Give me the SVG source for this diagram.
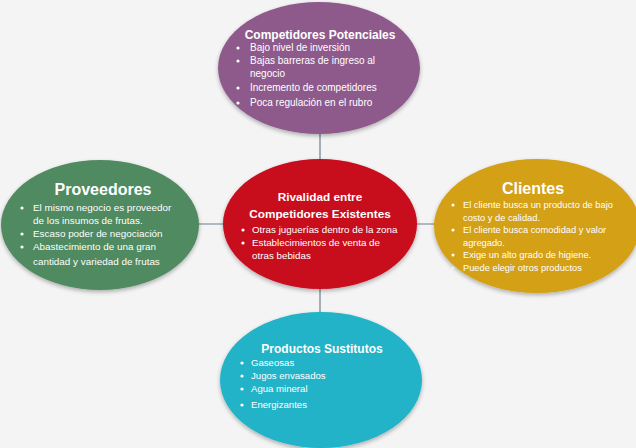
<svg xmlns="http://www.w3.org/2000/svg" width="636" height="448" viewBox="0 0 636 448">
<defs>
<filter id="sh" x="-10%" y="-10%" width="120%" height="125%">
<feGaussianBlur in="SourceAlpha" stdDeviation="2"/>
<feOffset dy="2" result="b"/>
<feComponentTransfer><feFuncA type="linear" slope="0.3"/></feComponentTransfer>
<feMerge><feMergeNode/><feMergeNode in="SourceGraphic"/></feMerge>
</filter>
</defs>
<style>
.t{font-family:"Liberation Sans",Arial,sans-serif;fill:#fff;font-weight:bold;text-anchor:middle}
.b{font-family:"Liberation Sans",Arial,sans-serif;fill:#fff}
.d{fill:#fff}
.c{stroke:#6c7f90;stroke-width:1.2;fill:none}
</style>
<rect width="636" height="448" fill="#f4f4f4"/>
<g id="connectors">
<line class="c" x1="320" y1="120" x2="320" y2="330"/>
<line class="c" x1="180" y1="224" x2="450" y2="224"/>
</g>
<g id="competidores-potenciales">
<ellipse cx="319" cy="68" rx="101" ry="66" fill="#8e5a8c" filter="url(#sh)"/>
<text class="t" x="320" y="39" font-size="12">Competidores Potenciales</text>
<g class="b" font-size="10">
<circle class="d" cx="238" cy="48" r="1.6"/><text x="250" y="51">Bajo nivel de inversión</text>
<circle class="d" cx="238" cy="61" r="1.6"/><text x="250" y="64">Bajas barreras de ingreso al</text>
<text x="250" y="77">negocio</text>
<circle class="d" cx="238" cy="88" r="1.6"/><text x="250" y="91">Incremento de competidores</text>
<circle class="d" cx="238" cy="103" r="1.6"/><text x="250" y="106">Poca regulación en el rubro</text>
</g>
</g>
<g id="proveedores">
<ellipse cx="100" cy="225" rx="99" ry="65" fill="#4f8a61" filter="url(#sh)"/>
<text class="t" x="103" y="195" font-size="16">Proveedores</text>
<g class="b" font-size="9.9">
<circle class="d" cx="22" cy="208" r="1.6"/><text x="33" y="211">El mismo negocio es proveedor</text>
<text x="33" y="224">de los insumos de frutas.</text>
<circle class="d" cx="22" cy="234" r="1.6"/><text x="33" y="237">Escaso poder de negociación</text>
<circle class="d" cx="22" cy="247" r="1.6"/><text x="33" y="250">Abastecimiento de una gran</text>
<text x="33" y="265">cantidad y variedad de frutas</text>
</g>
</g>
<g id="rivalidad">
<ellipse cx="320" cy="224" rx="97" ry="65" fill="#c8081e" filter="url(#sh)"/>
<text class="t" x="320" y="201" font-size="11.8">Rivalidad entre</text>
<text class="t" x="320" y="218" font-size="11.8">Competidores Existentes</text>
<g class="b" font-size="9.8">
<circle class="d" cx="243" cy="230" r="1.6"/><text x="252" y="233">Otras juguerías dentro de la zona</text>
<circle class="d" cx="243" cy="243" r="1.6"/><text x="252" y="246">Establecimientos de venta de</text>
<text x="252" y="259">otras bebidas</text>
</g>
</g>
<g id="clientes">
<ellipse cx="537" cy="226" rx="103" ry="67" fill="#d4a017" filter="url(#sh)"/>
<text class="t" x="533" y="194" font-size="16">Clientes</text>
<g class="b" font-size="9.3">
<circle class="d" cx="453" cy="205" r="1.5"/><text x="463" y="208">El cliente busca un producto de bajo</text>
<text x="463" y="221">costo y de calidad.</text>
<circle class="d" cx="453" cy="230" r="1.5"/><text x="463" y="233">El cliente busca comodidad y valor</text>
<text x="463" y="246">agregado.</text>
<circle class="d" cx="453" cy="255" r="1.5"/><text x="463" y="258">Exige un alto grado de higiene.</text>
<circle class="d" cx="453" cy="268" r="1.5" opacity="0.5"/><text x="463" y="271">Puede elegir otros productos</text>
</g>
</g>
<g id="productos-sustitutos">
<ellipse cx="321" cy="380" rx="101" ry="68" fill="#20b3c8" filter="url(#sh)"/>
<text class="t" x="322" y="353" font-size="12">Productos Sustitutos</text>
<g class="b" font-size="9.6">
<circle class="d" cx="242" cy="363" r="1.6"/><text x="251" y="366">Gaseosas</text>
<circle class="d" cx="242" cy="376" r="1.6"/><text x="251" y="379">Jugos envasados</text>
<circle class="d" cx="242" cy="389" r="1.6"/><text x="251" y="392">Agua mineral</text>
<circle class="d" cx="242" cy="405" r="1.6"/><text x="251" y="408">Energizantes</text>
</g>
</g>
</svg>
